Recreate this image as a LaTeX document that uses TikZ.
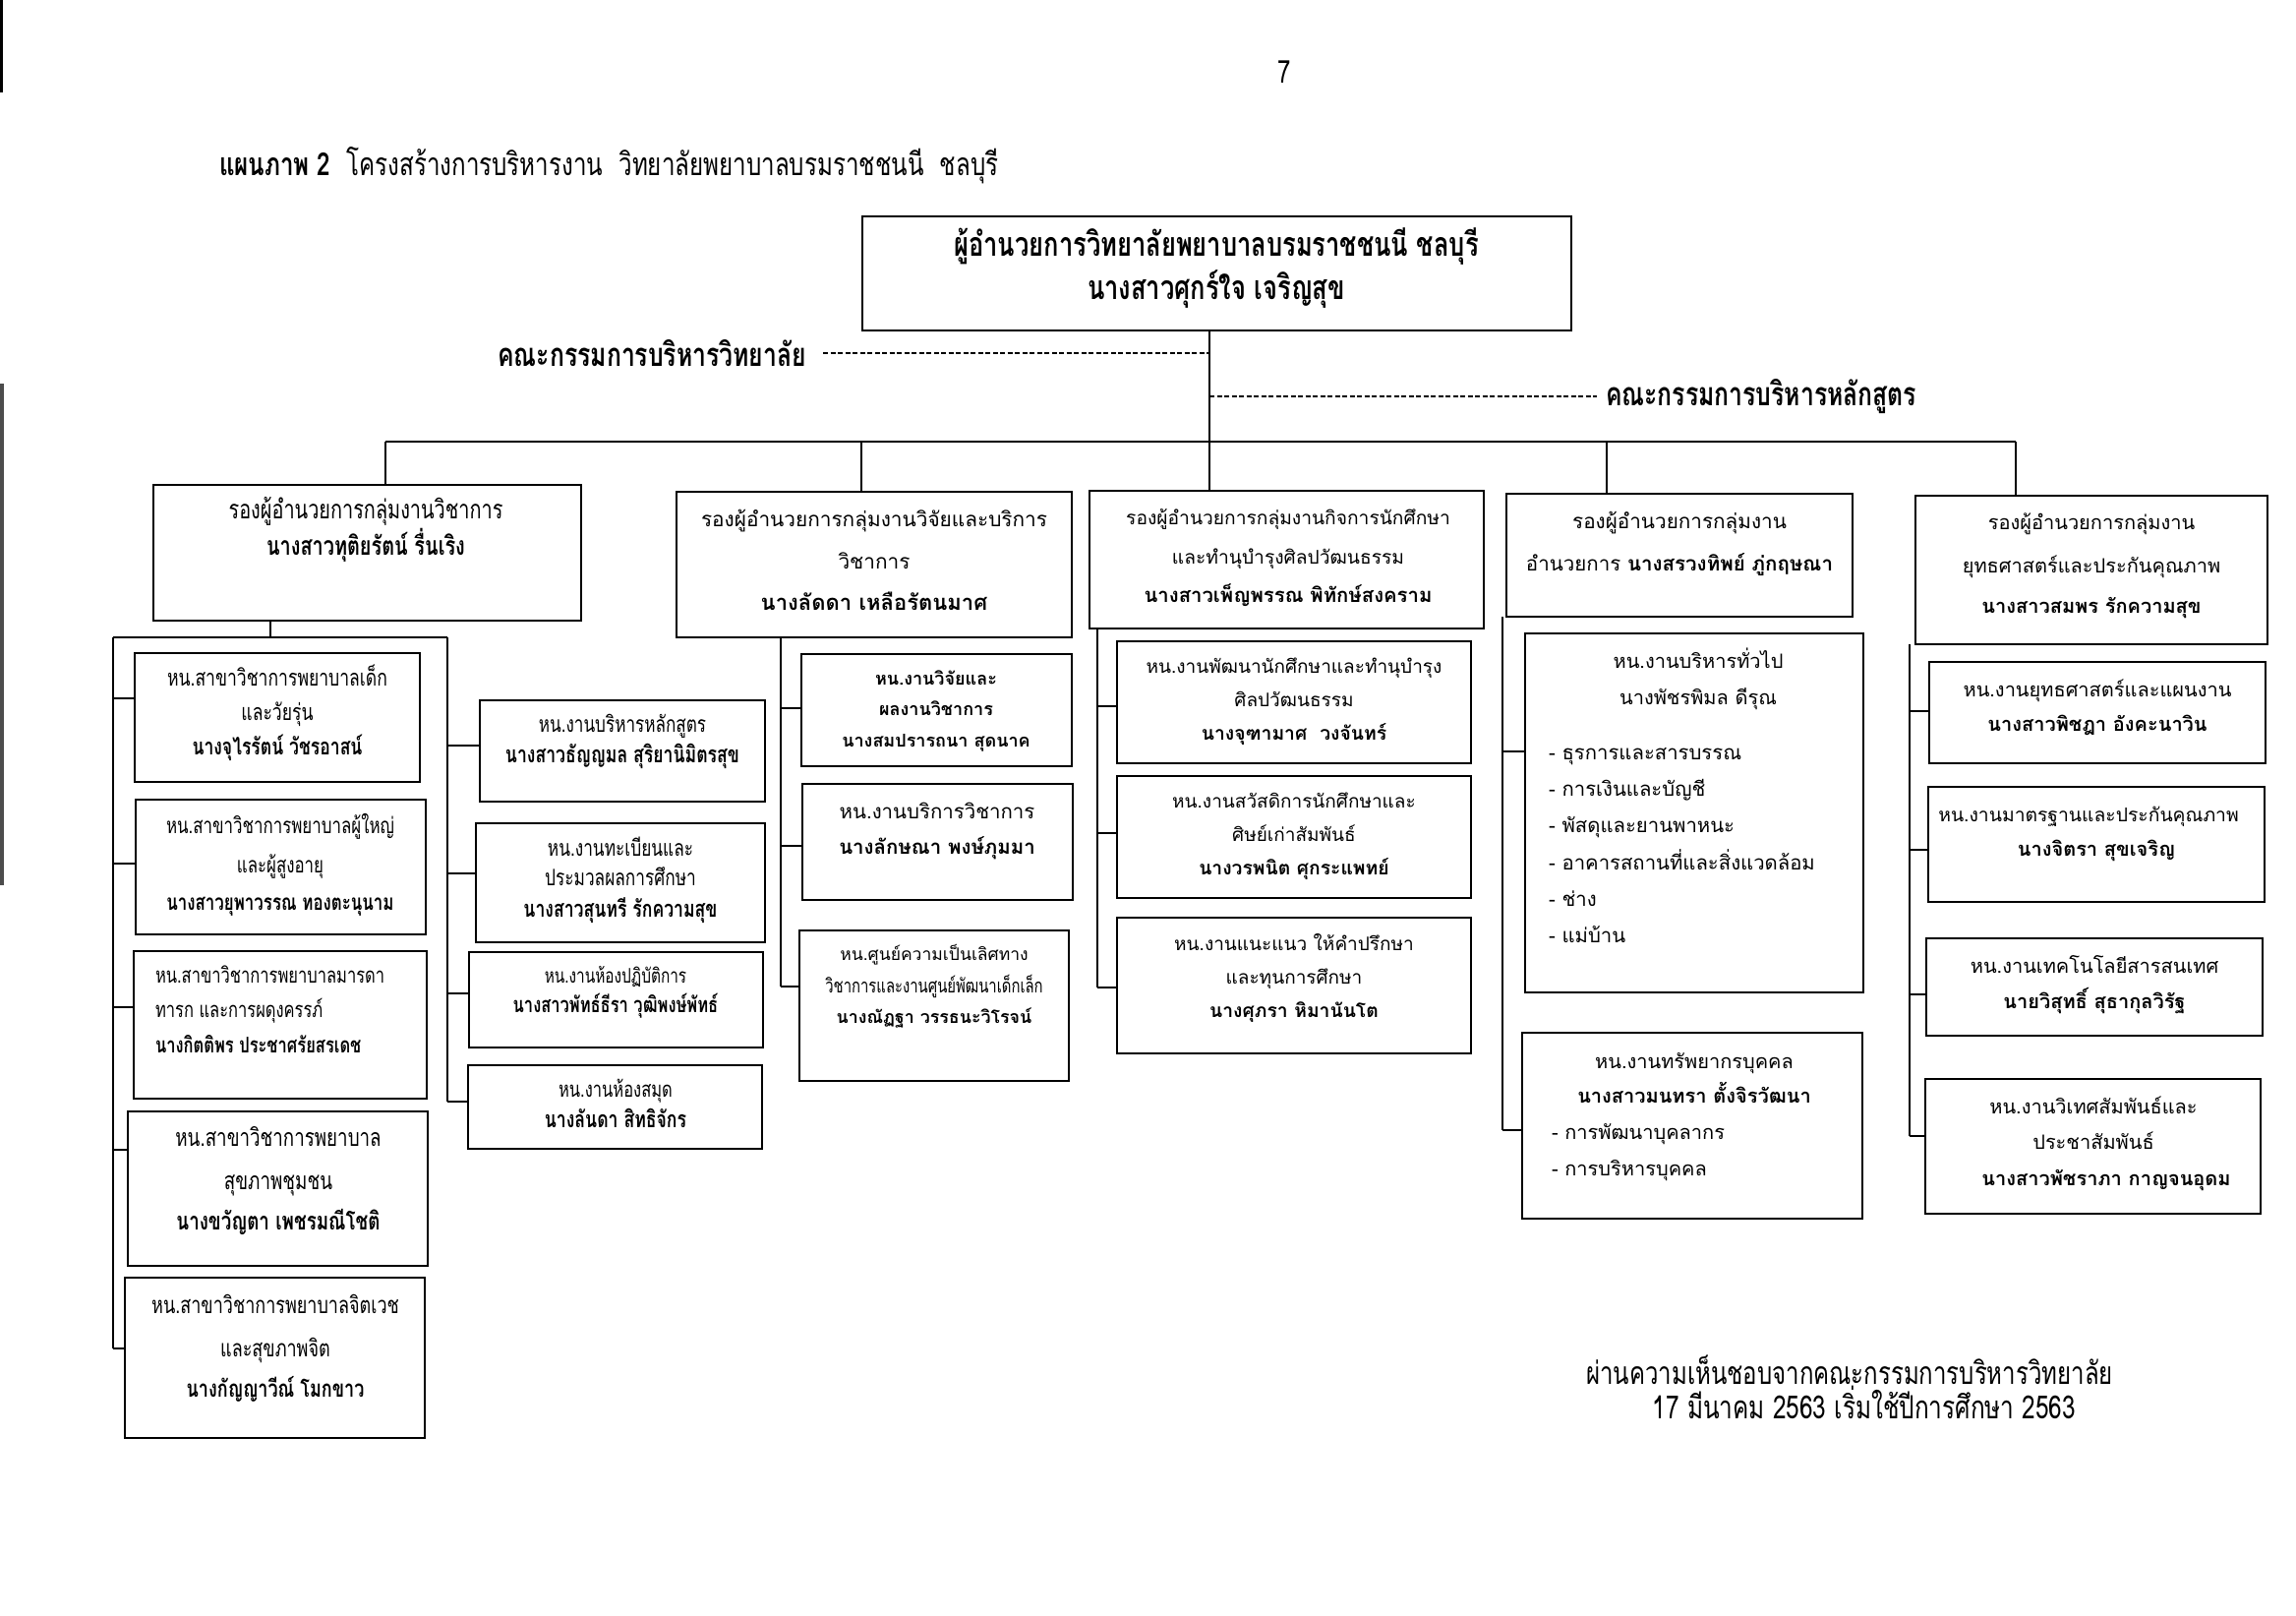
\documentclass[tikz,border=0pt]{standalone}
\usepackage{fontspec}
\newfontfamily\thf[Script=Thai]{Loma}
\newfontfamily\thn[Script=Thai,FakeStretch=0.75]{Loma}
\tikzset{
 box/.style={draw, line width=2.6pt, inner sep=0pt, outer sep=0pt},
 lnk/.style={line width=2.6pt},
 dsh/.style={line width=2.2pt, dash pattern=on 5pt off 2.5pt},
 txt/.style={anchor=mid, inner sep=0pt, outer sep=0pt},
 txtl/.style={anchor=mid west, inner sep=0pt, outer sep=0pt},
 txtr/.style={anchor=mid east, inner sep=0pt, outer sep=0pt},
}
\newcommand\bx[5]{\node[box, minimum width={(#4-#2)*1pt}, minimum height={(#5-#3)*1pt}] (#1) at ({(#2+#4)/2},{(#3+#5)/2}) {};}
\newcommand\tc[6]{\node[txt, font=#1\fontsize{#5pt}{#5pt}\selectfont] (#2) at (#3,#4) {#6};}
\newcommand\tl[6]{\node[txtl, font=#1\fontsize{#5pt}{#5pt}\selectfont] (#2) at (#3,#4) {#6};}
\newcommand\stub[4]{\coordinate (#1) at (#2,#3); \draw[lnk] (#1) -- (#1 -| #4.west);}
\begin{document}
\begin{tikzpicture}[x=1pt,y=-1pt]
\fill[white] (0,0) rectangle (2335,1642);
\useasboundingbox (0,0) rectangle (2335,1642);
% scan marks at left edge
\fill[black] (0,0) rectangle (3,94);
\fill[black!70] (0,390) rectangle (4,900);

% page number and title
\tc{\thn}{pnum}{1306}{82}{32}{7}
\tl{\thn}{title}{223}{176}{32.2}{\textbf{แผนภาพ 2}\ \ โครงสร้างการบริหารงาน\ \ วิทยาลัยพยาบาลบรมราชชนนี\ \ ชลบุรี}

% director
\bx{T}{877}{220}{1598}{336}
\tc{\thn\bfseries}{T1}{1237}{258}{34}{ผู้อำนวยการวิทยาลัยพยาบาลบรมราชชนนี ชลบุรี}
\tc{\thn\bfseries}{T2}{1237}{302}{34}{นางสาวศุกร์ใจ เจริญสุข}

% committees
\node[txtr, font=\thn\bfseries\fontsize{33pt}{33pt}\selectfont] (cL) at (820,370) {คณะกรรมการบริหารวิทยาลัย};
\node[txtl, font=\thn\bfseries\fontsize{33pt}{33pt}\selectfont] (cR) at (1633,410) {คณะกรรมการบริหารหลักสูตร};

% column headers
\bx{H1}{156}{493}{591}{631}
\bx{H2}{688}{500}{1090}{648}
\bx{H3}{1108}{499}{1509}{639}
\bx{H4}{1532}{502}{1884}{627}
\bx{H5}{1948}{504}{2306}{655}

% trunk, committees, bus
\coordinate (vx) at (1230,449);
\draw[lnk] (T.south -| vx) -- (H3.north -| vx);
\draw[dsh] ([xshift=17pt]cL.east) -- (cL.east -| vx);
\draw[dsh] (cR.west -| vx) -- ([xshift=-9pt]cR.west);
\coordinate (busL) at (392,449);
\coordinate (busR) at (2050,449);
\coordinate (d2) at (876,449);
\coordinate (d4) at (1634,449);
\draw[lnk] (busL) -- (busR);
\draw[lnk] (busL) -- (busL |- H1.north);
\draw[lnk] (d2) -- (d2 |- H2.north);
\draw[lnk] (d4) -- (d4 |- H4.north);
\draw[lnk] (busR) -- (busR |- H5.north);

% ---------- column 1 ----------
\tc{\thn}{h1a}{372}{525}{26.5}{รองผู้อำนวยการกลุ่มงานวิชาการ}
\tc{\thn\bfseries}{h1b}{372}{562}{26.5}{นางสาวทุติยรัตน์ รื่นเริง}

\bx{C1a}{137}{664}{427}{795}
\bx{C1b}{138}{813}{433}{950}
\bx{C1c}{136}{967}{434}{1117}
\bx{C1d}{130}{1130}{435}{1287}
\bx{C1e}{127}{1299}{432}{1462}
\bx{R1}{488}{712}{778}{815}
\bx{R2}{484}{837}{778}{958}
\bx{R3}{477}{968}{776}{1065}
\bx{R4}{476}{1083}{775}{1168}

\coordinate (b1) at (275,648);
\draw[lnk] (b1 |- H1.south) -- (b1);
\coordinate (k1l) at (115,648);
\coordinate (k1r) at (455,648);
\coordinate (e1l) at (115,1371);
\coordinate (e1r) at (455,1120);
\draw[lnk] (k1l) -- (k1r);
\draw[lnk] (k1l) -- (e1l);
\draw[lnk] (k1r) -- (e1r);
\stub{s1a}{115}{710}{C1a}
\stub{s1b}{115}{878}{C1b}
\stub{s1c}{115}{1024}{C1c}
\stub{s1d}{115}{1169}{C1d}
\draw[lnk] (e1l) -- (e1l -| C1e.west);
\stub{r1a}{455}{758}{R1}
\stub{r1b}{455}{888}{R2}
\stub{r1c}{455}{1010}{R3}
\draw[lnk] (e1r) -- (e1r -| R4.west);

\tc{\thn}{c1a1}{282}{695}{23.4}{หน.สาขาวิชาการพยาบาลเด็ก}
\tc{\thn}{c1a2}{282}{730}{23.4}{และวัยรุ่น}
\tc{\thn\bfseries}{c1a3}{282}{765}{23.4}{นางจุไรรัตน์ วัชรอาสน์}

\tc{\thn}{c1b1}{285}{845}{22.5}{หน.สาขาวิชาการพยาบาลผู้ใหญ่}
\tc{\thn}{c1b2}{285}{885}{22.5}{และผู้สูงอายุ}
\tc{\thn\bfseries}{c1b3}{285}{923}{22.5}{นางสาวยุพาวรรณ ทองตะนุนาม}

\tl{\thn}{c1c1}{158}{997}{22}{หน.สาขาวิชาการพยาบาลมารดา}
\tl{\thn}{c1c2}{158}{1032}{22}{ทารก และการผดุงครรภ์}
\tl{\thn\bfseries}{c1c3}{158}{1068}{22}{นางกิตติพร ประชาศรัยสรเดช}

\tc{\thn}{c1d1}{283}{1163}{25}{หน.สาขาวิชาการพยาบาล}
\tc{\thn}{c1d2}{283}{1207}{25}{สุขภาพชุมชน}
\tc{\thn\bfseries}{c1d3}{283}{1248}{25}{นางขวัญตา เพชรมณีโชติ}

\tc{\thn}{c1e1}{280}{1333}{24}{หน.สาขาวิชาการพยาบาลจิตเวช}
\tc{\thn}{c1e2}{280}{1377}{24}{และสุขภาพจิต}
\tc{\thn\bfseries}{c1e3}{280}{1418}{24}{นางกัญญาวีณ์ โมกขาว}

\tc{\thn}{r11}{633}{742}{22.8}{หน.งานบริหารหลักสูตร}
\tc{\thn\bfseries}{r12}{633}{773}{23.5}{นางสาวธัญญมล สุริยานิมิตรสุข}
\tc{\thn}{r21}{631}{868}{23}{หน.งานทะเบียนและ}
\tc{\thn}{r22}{631}{898}{23}{ประมวลผลการศึกษา}
\tc{\thn\bfseries}{r23}{631}{930}{23.5}{นางสาวสุนทรี รักความสุข}
\tc{\thn}{r31}{626}{997}{20.5}{หน.งานห้องปฏิบัติการ}
\tc{\thn\bfseries}{r32}{626}{1027}{22}{นางสาวพัทธ์ธีรา วุฒิพงษ์พัทธ์}
\tc{\thn}{r41}{626}{1113}{22}{หน.งานห้องสมุด}
\tc{\thn\bfseries}{r42}{626}{1144}{23.5}{นางลันดา สิทธิจักร}

% ---------- column 2 ----------
\tc{\thf}{h2a}{889}{533}{20.8}{รองผู้อำนวยการกลุ่มงานวิจัยและบริการ}
\tc{\thf}{h2b}{889}{576}{20.8}{วิชาการ}
\tc{\thf\bfseries}{h2c}{889}{618}{22}{นางลัดดา เหลือรัตนมาศ}

\bx{C2a}{815}{665}{1090}{779}
\bx{C2b}{816}{797}{1091}{915}
\bx{C2c}{813}{946}{1087}{1099}
\coordinate (k2) at (794,648);
\coordinate (e2) at (794,1003);
\draw[lnk] (k2 |- H2.south) -- (e2);
\stub{s2a}{794}{720}{C2a}
\stub{s2b}{794}{860}{C2b}
\draw[lnk] (e2) -- (e2 -| C2c.west);

\tc{\thf\bfseries}{c2a1}{952}{694}{18}{หน.งานวิจัยและ}
\tc{\thf\bfseries}{c2a2}{952}{725}{18}{ผลงานวิชาการ}
\tc{\thf\bfseries}{c2a3}{952}{757}{18}{นางสมปรารถนา สุดนาค}
\tc{\thf}{c2b1}{953}{830}{20.4}{หน.งานบริการวิชาการ}
\tc{\thf\bfseries}{c2b2}{953}{866}{20.4}{นางลักษณา พงษ์ภุมมา}
\tc{\thf}{c2c1}{950}{974}{17.5}{หน.ศูนย์ความเป็นเลิศทาง}
\tc{\thn}{c2c2}{950}{1007}{19.8}{วิชาการและงานศูนย์พัฒนาเด็กเล็ก}
\tc{\thf\bfseries}{c2c3}{950}{1038}{17.8}{นางณัฏฐา วรรธนะวิโรจน์}

% ---------- column 3 ----------
\tc{\thf}{h3a}{1310}{531}{19.2}{รองผู้อำนวยการกลุ่มงานกิจการนักศึกษา}
\tc{\thf}{h3b}{1310}{571}{19.2}{และทำนุบำรุงศิลปวัฒนธรรม}
\tc{\thf\bfseries}{h3c}{1310}{610}{20.3}{นางสาวเพ็ญพรรณ พิทักษ์สงคราม}

\bx{C3a}{1136}{652}{1496}{776}
\bx{C3b}{1136}{789}{1496}{913}
\bx{C3c}{1136}{933}{1496}{1071}
\coordinate (k3) at (1116,639);
\coordinate (e3) at (1116,1004);
\draw[lnk] (k3 |- H3.south) -- (e3);
\stub{s3a}{1116}{718}{C3a}
\stub{s3b}{1116}{847}{C3b}
\draw[lnk] (e3) -- (e3 -| C3c.west);

\tc{\thf}{c3a1}{1316}{682}{19}{หน.งานพัฒนานักศึกษาและทำนุบำรุง}
\tc{\thf}{c3a2}{1316}{716}{19}{ศิลปวัฒนธรรม}
\tc{\thf\bfseries}{c3a3}{1316}{750}{19.3}{นางจุฑามาศ\ \ วงจันทร์}
\tc{\thf}{c3b1}{1316}{819}{19}{หน.งานสวัสดิการนักศึกษาและ}
\tc{\thf}{c3b2}{1316}{853}{19}{ศิษย์เก่าสัมพันธ์}
\tc{\thf\bfseries}{c3b3}{1316}{887}{19.3}{นางวรพนิต ศุกระแพทย์}
\tc{\thf}{c3c1}{1316}{964}{19}{หน.งานแนะแนว ให้คำปรึกษา}
\tc{\thf}{c3c2}{1316}{998}{19}{และทุนการศึกษา}
\tc{\thf\bfseries}{c3c3}{1316}{1032}{19.3}{นางศุภรา หิมานันโต}

% ---------- column 4 ----------
\tc{\thf}{h4a}{1708}{535}{20.7}{รองผู้อำนวยการกลุ่มงาน}
\tc{\thf}{h4b}{1708}{578}{20.5}{อำนวยการ \textbf{นางสรวงทิพย์ ภู่กฤษณา}}

\bx{C4a}{1551}{644}{1895}{1009}
\bx{C4b}{1548}{1050}{1894}{1239}
\coordinate (k4) at (1528,627);
\coordinate (e4) at (1528,1149);
\draw[lnk] (k4 |- H4.south) -- (e4);
\stub{s4a}{1528}{764}{C4a}
\draw[lnk] (e4) -- (e4 -| C4b.west);

\tc{\thf}{c4a1}{1727}{677}{20}{หน.งานบริหารทั่วไป}
\tc{\thf}{c4a2}{1727}{714}{20}{นางพัชรพิมล ดีรุณ}
\tl{\thf}{c4a3}{1575}{770}{20.3}{- ธุรการและสารบรรณ}
\tl{\thf}{c4a4}{1575}{807}{20.3}{- การเงินและบัญชี}
\tl{\thf}{c4a5}{1575}{844}{20.3}{- พัสดุและยานพาหนะ}
\tl{\thf}{c4a6}{1575}{882}{20.3}{- อาคารสถานที่และสิ่งแวดล้อม}
\tl{\thf}{c4a7}{1575}{919}{20.3}{- ช่าง}
\tl{\thf}{c4a8}{1575}{956}{20.3}{- แม่บ้าน}
\tc{\thf}{c4b1}{1723}{1084}{20}{หน.งานทรัพยากรบุคคล}
\tc{\thf\bfseries}{c4b2}{1723}{1119}{20}{นางสาวมนทรา ตั้งจิรวัฒนา}
\tl{\thf}{c4b3}{1578}{1156}{20}{- การพัฒนาบุคลากร}
\tl{\thf}{c4b4}{1578}{1193}{20}{- การบริหารบุคคล}

% ---------- column 5 ----------
\tc{\thf}{h5a}{2127}{536}{20}{รองผู้อำนวยการกลุ่มงาน}
\tc{\thf}{h5b}{2127}{580}{20}{ยุทธศาสตร์และประกันคุณภาพ}
\tc{\thf\bfseries}{h5c}{2127}{621}{20}{นางสาวสมพร รักความสุข}

\bx{C5a}{1962}{673}{2304}{776}
\bx{C5b}{1961}{800}{2303}{917}
\bx{C5c}{1959}{954}{2301}{1053}
\bx{C5d}{1958}{1097}{2299}{1234}
\coordinate (k5) at (1942,655);
\coordinate (e5) at (1942,1155);
\draw[lnk] (k5 |- H5.south) -- (e5);
\stub{s5a}{1942}{723}{C5a}
\stub{s5b}{1942}{864}{C5b}
\stub{s5c}{1942}{1011}{C5c}
\draw[lnk] (e5) -- (e5 -| C5d.west);

\tc{\thf}{c5a1}{2133}{706}{20}{หน.งานยุทธศาสตร์และแผนงาน}
\tc{\thf\bfseries}{c5a2}{2133}{741}{20}{นางสาวพิชฎา อังคะนาวิน}
\tc{\thf}{c5b1}{2124}{833}{19.3}{หน.งานมาตรฐานและประกันคุณภาพ}
\tc{\thf\bfseries}{c5b2}{2132}{868}{20}{นางจิตรา สุขเจริญ}
\tc{\thf}{c5c1}{2130}{987}{20}{หน.งานเทคโนโลยีสารสนเทศ}
\tc{\thf\bfseries}{c5c2}{2130}{1023}{20}{นายวิสุทธิ์ สุธากุลวิรัฐ}
\tc{\thf}{c5d1}{2129}{1130}{20}{หน.งานวิเทศสัมพันธ์และ}
\tc{\thf}{c5d2}{2129}{1166}{20}{ประชาสัมพันธ์}
\tc{\thf\bfseries}{c5d3}{2142}{1203}{20}{นางสาวพัชราภา กาญจนอุดม}

% footer
\tc{\thn}{f1}{1881}{1405}{32}{ผ่านความเห็นชอบจากคณะกรรมการบริหารวิทยาลัย}
\tc{\thn}{f2}{1896}{1440}{32.5}{17 มีนาคม 2563 เริ่มใช้ปีการศึกษา 2563}
\end{tikzpicture}
\end{document}
